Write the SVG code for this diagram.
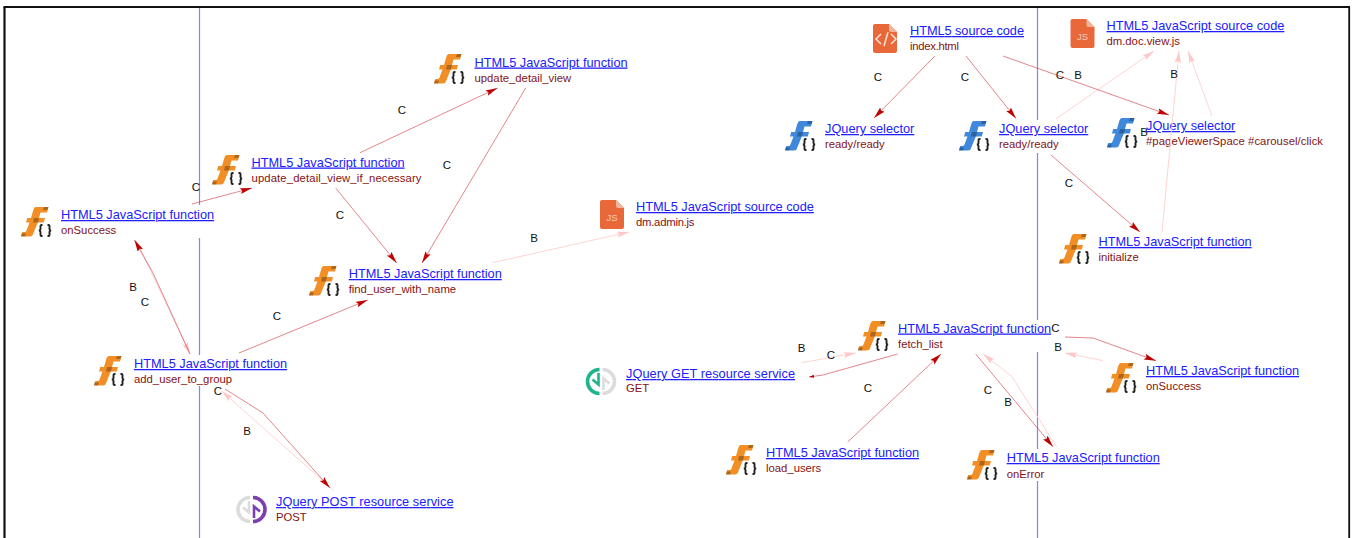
<svg xmlns="http://www.w3.org/2000/svg" width="1352" height="538" viewBox="0 0 1352 538">
<style>
text{font-family:"Liberation Sans",Arial,sans-serif}
.t{font-size:12.75px;fill:#2020ff;text-decoration:underline}
.s{font-size:11.3px;fill:#841212}
.l{font-size:11.5px;fill:#111;text-anchor:middle}
.bg{fill:#fff}
.c{fill:none;stroke:#c8222a;stroke-width:.75;stroke-opacity:.72;marker-end:url(#hc)}
.cs{fill:none;stroke:#c8222a;stroke-width:.75;stroke-opacity:.72;marker-end:url(#hcs)}
.b{fill:none;stroke:#ffd4d4;stroke-width:1;marker-end:url(#hb)}
.v{stroke:#8484fa;stroke-width:1.2;fill:none}
.fr{stroke:#111;fill:none}
.o{color:#f28e26}
.u{color:#3f88dc}
</style>
<defs>
<marker id="hc" markerUnits="userSpaceOnUse" markerWidth="13" markerHeight="8" refX="12" refY="3" orient="auto"><path d="M0 0L12 3L0 6L2 3Z" fill="#c00000"/></marker>
<marker id="hcs" markerUnits="userSpaceOnUse" markerWidth="6" markerHeight="5" refX="5" refY="1.500" orient="auto"><path d="M0 0L5 1.500L0 3Z" fill="#c00000"/></marker>
<marker id="hb" markerUnits="userSpaceOnUse" markerWidth="13" markerHeight="8" refX="12" refY="3" orient="auto"><path d="M0 0L12 3L0 6L2 3Z" fill="#ffc8c8"/></marker>
<g id="fn">
<path fill="currentColor" d="M15 0H27.500L26 5.500H19.500L18 11H24L22.800 15.500H16.800L12.500 26Q11.500 29.500 9 29.500H0L1.200 25H3.500Q5 25 5.500 23.500L8.500 15.500H5L6.200 11H10L12 4Q13 0 15 0Z"/>
<path fill="#000" fill-opacity=".28" d="M23 0H27.500L26.600 3H22ZM13 11H18L17 15.500H12ZM0.600 26.500H5L4 29.500H0Z"/>
<path d="M21.500 18H20.500Q19.500 18 19.500 19V22.300Q19.500 23.500 17.800 23.500Q19.500 23.500 19.500 24.700V28Q19.500 29 20.500 29H21.500M26.500 18H27.500Q28.500 18 28.500 19V22.300Q28.500 23.500 30.200 23.500Q28.500 23.500 28.500 24.700V28Q28.500 29 27.500 29H26.500" fill="none" stroke="#222" stroke-width="1.900"/>
</g>
<g id="file">
<path fill="#e9683a" d="M2 0H16L24 8V27Q24 29 22 29H2Q0 29 0 27V2Q0 0 2 0Z"/>
<path fill="#f2b39b" d="M16 0L24 8H18Q16 8 16 6Z"/>
</g>
<g id="halfL"><path d="M13.500 1.500A12 12 0 0 0 13.500 25.500" fill="none" stroke="currentColor" stroke-width="3.600"/><path d="M12.500 5V16.500L6.500 11.500" fill="none" stroke="currentColor" stroke-width="2.600"/></g>
<g id="halfR"><path d="M16.500 1.500A12 12 0 0 1 16.500 25.500" fill="none" stroke="currentColor" stroke-width="3.600"/><path d="M17.500 22V10.500L23.500 15.500" fill="none" stroke="currentColor" stroke-width="2.600"/></g>
</defs>
<rect width="1352" height="538" fill="#fff"/>
<g id="frame">
<path class="fr" stroke-width="2.200" d="M4.500 538V7"/>
<path class="fr" stroke-width="1.800" d="M3.500 7H1350"/>
<path class="fr" stroke-width="1.800" d="M1349.200 7V538"/>
<path class="v" d="M199.500 8V538M1037.500 8V538"/>
</g>
<g id="n-onSuccess"><rect class="bg" x="21" y="205" width="195" height="33"/><use href="#fn" x="21" y="207" class="o"/><text class="t" x="61" y="219">HTML5 JavaScript function</text><text class="s" x="61" y="234">onSuccess</text></g>
<g id="n-update-if"><rect class="bg" x="212" y="154" width="210" height="32"/><use href="#fn" x="212" y="155" class="o"/><text class="t" x="251.500" y="166.500">HTML5 JavaScript function</text><text class="s" x="251.500" y="181.500" textLength="170">update_detail_view_if_necessary</text></g>
<g id="n-update"><rect class="bg" x="434" y="53" width="195" height="32"/><use href="#fn" x="434" y="54" class="o"/><text class="t" x="474.500" y="66.500">HTML5 JavaScript function</text><text class="s" x="474.500" y="81.500">update_detail_view</text></g>
<g id="n-find"><rect class="bg" x="309" y="265" width="195" height="32"/><use href="#fn" x="309" y="266" class="o"/><text class="t" x="348.700" y="278">HTML5 JavaScript function</text><text class="s" x="348.700" y="293">find_user_with_name</text></g>
<g id="n-add"><rect class="bg" x="94" y="355" width="195" height="31"/><use href="#fn" x="94" y="356" class="o"/><text class="t" x="134" y="368">HTML5 JavaScript function</text><text class="s" x="134" y="383">add_user_to_group</text></g>
<g id="n-admin-js"><use href="#file" x="600" y="200"/><text x="612" y="221" font-size="9.500" fill="#f6cdbd" text-anchor="middle">JS</text><text class="t" x="636" y="211">HTML5 JavaScript source code</text><text class="s" x="636" y="226" textLength="58.500">dm.admin.js</text></g>
<g id="n-index"><use href="#file" x="873" y="24"/><path d="M881 34L876 39L881 44M891 34L896 39L891 44M888 32L884 46" fill="none" stroke="#fbe3d9" stroke-width="1.500"/><text class="t" x="910" y="35" textLength="114">HTML5 source code</text><text class="s" x="910" y="50" textLength="49">index.html</text></g>
<g id="n-sel-left"><use href="#fn" x="785" y="121" class="u"/><text class="t" x="825" y="133">JQuery selector</text><text class="s" x="825" y="148">ready/ready</text></g>
<g id="n-sel-mid"><rect class="bg" x="959" y="120" width="135" height="33"/><use href="#fn" x="959" y="121" class="u"/><text class="t" x="999" y="133">JQuery selector</text><text class="s" x="999" y="148">ready/ready</text></g>
<g id="n-sel-right"><use href="#fn" x="1107" y="118" class="u"/><text class="t" x="1146" y="130">JQuery selector</text><text class="s" x="1146" y="145" textLength="177">#pageViewerSpace #carousel/click</text></g>
<g id="n-doc-js"><use href="#file" x="1070.500" y="19"/><text x="1082.500" y="40" font-size="9.500" fill="#f6cdbd" text-anchor="middle">JS</text><text class="t" x="1106.500" y="30">HTML5 JavaScript source code</text><text class="s" x="1106.500" y="45">dm.doc.view.js</text></g>
<g id="n-initialize"><use href="#fn" x="1059" y="234" class="o"/><text class="t" x="1098.500" y="246">HTML5 JavaScript function</text><text class="s" x="1098.500" y="261">initialize</text></g>
<g id="n-fetch"><rect class="bg" x="858" y="320" width="195" height="32"/><use href="#fn" x="858" y="321" class="o"/><text class="t" x="898" y="332.500">HTML5 JavaScript function</text><text class="s" x="898" y="348">fetch_list</text></g>
<g id="n-onSuccess2"><use href="#fn" x="1106" y="363" class="o"/><text class="t" x="1146" y="375">HTML5 JavaScript function</text><text class="s" x="1146" y="390">onSuccess</text></g>
<g id="n-onError"><rect class="bg" x="967" y="449" width="195" height="32"/><use href="#fn" x="967" y="450" class="o"/><text class="t" x="1006.700" y="462">HTML5 JavaScript function</text><text class="s" x="1006.700" y="478">onError</text></g>
<g id="n-load"><use href="#fn" x="726" y="445" class="o"/><text class="t" x="766" y="457">HTML5 JavaScript function</text><text class="s" x="766" y="472">load_users</text></g>
<g id="n-get"><use href="#halfL" x="586" y="368" color="#1fb48e"/><use href="#halfR" x="586" y="368" color="#dcdcdc"/><text class="t" x="626" y="378" textLength="169">JQuery GET resource service</text><text class="s" x="626" y="392">GET</text></g>
<g id="n-post"><use href="#halfL" x="236.500" y="496" color="#dcdcdc"/><use href="#halfR" x="236.500" y="496" color="#7e3fb0"/><text class="t" x="276" y="506" textLength="177.500">JQuery POST resource service</text><text class="s" x="276" y="521">POST</text></g>
<g id="connectors">
<path class="b" d="M136 240L190 354"/>
<path class="b" d="M334 490.700L221.700 391"/>
<path class="b" d="M492.700 262.700L629 232"/>
<path class="b" d="M1056 118.700L1154 51"/>
<path class="b" d="M1162 232L1179 51"/>
<path class="b" d="M1212 116L1188 51"/>
<path class="b" d="M801.700 362.700L855.700 353"/>
<path class="b" d="M1103 360.700L1065 353"/>
<path class="b" d="M1056.700 447L1012 376.700L983 354"/>
<path class="c" d="M192 204L252 188"/>
<path class="c" d="M360 152.700L497.500 88"/>
<path class="c" d="M335.700 188L396.700 263"/>
<path class="c" d="M525.700 88L422 263"/>
<path class="c" d="M239 353L367.700 300"/>
<path class="c" d="M190 354L153 273L134.500 240"/>
<path class="c" d="M225 389L263 413L330 488"/>
<path class="c" d="M935 56L874 118"/>
<path class="c" d="M966 56L1016 118.600"/>
<path class="c" d="M1003 56L1169 115"/>
<path class="c" d="M1051 155L1140 232"/>
<path class="cs" d="M897.700 354L823 375L809 377"/>
<path class="c" d="M847.700 442L941 354"/>
<path class="c" d="M1065 337L1093 338L1156 360.700"/>
<path class="c" d="M975.700 354L1053 446.700"/>
<g id="edge-labels">
<text class="l" x="196" y="191">C</text>
<text class="l" x="402" y="114">C</text>
<text class="l" x="447" y="169">C</text>
<text class="l" x="340" y="219">C</text>
<text class="l" x="534" y="242">B</text>
<text class="l" x="133" y="291">B</text>
<text class="l" x="145" y="306">C</text>
<text class="l" x="277" y="320">C</text>
<text class="l" x="218" y="395">C</text>
<text class="l" x="247" y="435">B</text>
<text class="l" x="878" y="81">C</text>
<text class="l" x="965" y="81">C</text>
<text class="l" x="1060" y="79">C</text>
<text class="l" x="1078" y="79">B</text>
<text class="l" x="1174" y="77.500">B</text>
<text class="l" x="1144" y="136">B</text>
<text class="l" x="1069" y="187">C</text>
<text class="l" x="801.500" y="352">B</text>
<text class="l" x="831" y="359">C</text>
<text class="l" x="868" y="392">C</text>
<text class="l" x="1055.500" y="332">C</text>
<text class="l" x="1058" y="351">B</text>
<text class="l" x="988" y="394">C</text>
<text class="l" x="1008" y="406">B</text>
</g>
</g>
</svg>
